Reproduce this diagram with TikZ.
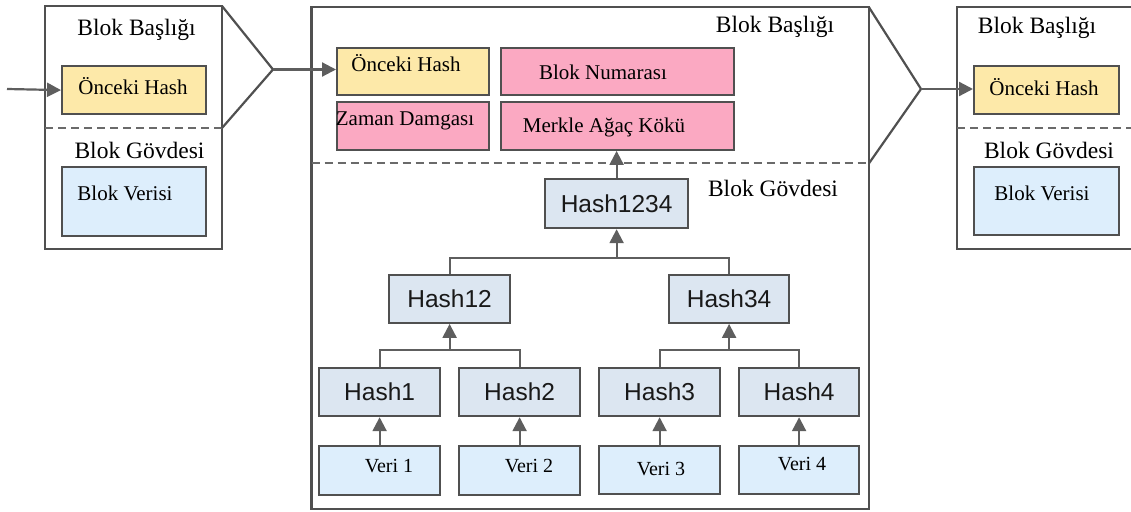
\documentclass[tikz,border=0pt]{standalone}
\usepackage{fontspec}
\setmainfont{Liberation Serif}
\newfontfamily\hashfont{Liberation Sans}
\usetikzlibrary{arrows.meta}

\definecolor{edge}{HTML}{505050}
\definecolor{link}{HTML}{5E5E5E}
\definecolor{prevfill}{HTML}{FDE9A9}
\definecolor{headfill}{HTML}{FBA9C2}
\definecolor{datafill}{HTML}{DDEEFC}
\definecolor{hashfill}{HTML}{DCE6F1}

\begin{document}
\begin{tikzpicture}[x=1pt,y=-1pt,
  frame/.style={draw=edge, line width=2.2pt, line join=miter},
  sepline/.style={draw=edge!85, line width=2pt, dash pattern=on 8pt off 5pt},
  cell/.style={draw=edge, line width=2.2pt, inner sep=0pt, anchor=north west},
  prevcell/.style={cell, fill=prevfill},
  headcell/.style={cell, fill=headfill},
  datacell/.style={cell, fill=datafill},
  hashcell/.style={cell, fill=hashfill, text=black!90,
    font=\hashfont\fontsize{24.5}{28}\selectfont},
  title/.style={inner sep=0pt, font=\fontsize{23.5}{28}\selectfont},
  celltext/.style={inner sep=0pt, font=\fontsize{21}{25}\selectfont},
  veritext/.style={inner sep=0pt, font=\fontsize{20}{24}\selectfont},
  feed/.style={draw=link, line width=2.2pt, -{Triangle[length=14pt,width=14pt]}},
  branch/.style={draw=link, line width=1.8pt},
]
\useasboundingbox (0,0) rectangle (1131,511);

% ---------- previous block ----------
\draw[frame] (45,6) rectangle (222,249);
\draw[sepline] (45,128) -- (222,128);
\coordinate (tipL) at (273,69.5);
\draw[frame] (222,6) -- (tipL) -- (222,128);
\node[title] (headL) at (136.5,30) {Blok Başlığı};
\node[title] (bodyL) at (139.5,150) {Blok Gövdesi};
\node[prevcell, minimum width=144pt, minimum height=48pt] (prevL) at (61,65) {};
\node[celltext] (prevLt) at (133,86) {Önceki Hash};
\node[datacell, minimum width=144pt, minimum height=69pt] (dataL) at (61,166) {};
\node[celltext] (dataLt) at (125,193) {Blok Verisi};
\coordinate (inL) at (7,89);
\draw[feed] (inL) -- (prevL.west);

% ---------- current block ----------
\draw[frame] (311.5,7.3) rectangle (869,509);
\draw[sepline] (311.5,163.3) -- (869,163.3);
\coordinate (tipC) at (921,89);
\draw[frame] (869,7.3) -- (tipC) -- (869,163.3);
\node[title] (headC) at (775,27) {Blok Başlığı};
\node[title] (bodyC) at (773,188) {Blok Gövdesi};

\node[prevcell, minimum width=152pt, minimum height=47.3pt] (prevC) at (336,46.7) {};
\node[celltext] (prevCt) at (406,63) {Önceki Hash};
\node[headcell, minimum width=233pt, minimum height=47.3pt] (numC) at (500,46.7) {};
\node[celltext] (numCt) at (603,72) {Blok Numarası};
\node[headcell, minimum width=152pt, minimum height=48pt] (timeC) at (336,100.7) {};
\node[celltext] (timeCt) at (405,121) {Zaman Damgası};
\node[headcell, minimum width=233pt, minimum height=48pt] (rootC) at (500,100.7) {};
\node[celltext] (rootCt) at (604,127) {Merkle Ağaç Kökü};

\draw[feed] (tipL) -- (tipL -| prevC.west);

% Merkle tree
\node[hashcell, minimum width=143pt, minimum height=49pt] (h1234) at (544,178) {Hash1234};
\node[hashcell, minimum width=121pt, minimum height=48pt] (h12) at (388,273.7) {Hash12};
\node[hashcell, minimum width=120pt, minimum height=48pt] (h34) at (668,273.7) {Hash34};
\node[hashcell, minimum width=121pt, minimum height=48pt] (h1) at (318,367) {Hash1};
\node[hashcell, minimum width=121pt, minimum height=48pt] (h2) at (458,367) {Hash2};
\node[hashcell, minimum width=121pt, minimum height=48pt] (h3) at (598,367) {Hash3};
\node[hashcell, minimum width=120pt, minimum height=48pt] (h4) at (738,367) {Hash4};

\node[datacell, minimum width=121pt, minimum height=49pt] (v1) at (318,445) {};
\node[veritext] (v1t) at (389,466) {Veri 1};
\node[datacell, minimum width=121pt, minimum height=49pt] (v2) at (458,445) {};
\node[veritext] (v2t) at (529,466) {Veri 2};
\node[datacell, minimum width=121pt, minimum height=48pt] (v3) at (598,445) {};
\node[veritext] (v3t) at (661,469) {Veri 3};
\node[datacell, minimum width=120pt, minimum height=48pt] (v4) at (738,445) {};
\node[veritext] (v4t) at (802,464) {Veri 4};

\draw[feed] (h1234.north) -- (h1234.north |- rootC.south);

\coordinate (j1234) at (h1234.south |- 0,258);
\draw[branch] (h12.north) |- (j1234) -| (h34.north);
\draw[feed] (j1234) -- (h1234.south);

\coordinate (j12) at (h12.south |- 0,350);
\draw[branch] (h1.north) |- (j12) -| (h2.north);
\draw[feed] (j12) -- (h12.south);

\coordinate (j34) at (h34.south |- 0,350);
\draw[branch] (h3.north) |- (j34) -| (h4.north);
\draw[feed] (j34) -- (h34.south);

\draw[feed] (v1.north) -- (h1.south);
\draw[feed] (v2.north) -- (h2.south);
\draw[feed] (v3.north) -- (h3.south);
\draw[feed] (v4.north) -- (h4.south);

% ---------- next block ----------
\draw[frame] (1136,7) -- (957,7) -- (957,249) -- (1136,249);
\draw[sepline] (957,128) -- (1136,128);
\node[title] (headR) at (1037,28) {Blok Başlığı};
\node[title] (bodyR) at (1049,150) {Blok Gövdesi};
\node[prevcell, minimum width=145pt, minimum height=48pt] (prevR) at (973,65) {};
\node[celltext] (prevRt) at (1044,87) {Önceki Hash};
\node[datacell, minimum width=145pt, minimum height=68pt] (dataR) at (973,166) {};
\node[celltext] (dataRt) at (1042,193) {Blok Verisi};
\draw[feed] (tipC) -- (tipC -| prevR.west);
\end{tikzpicture}
\end{document}
